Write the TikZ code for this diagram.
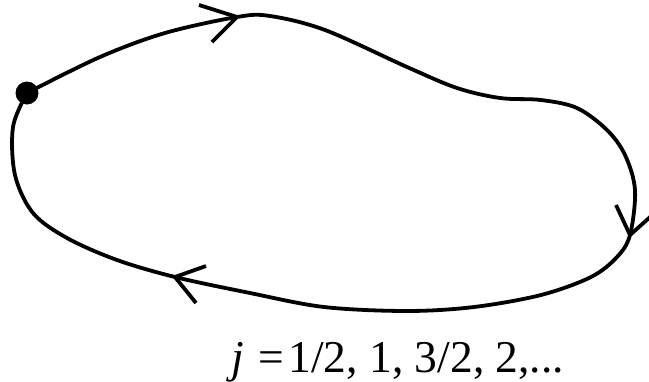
\documentclass[tikz,border=0pt]{standalone}
\usepackage{fontspec}
\setmainfont{Liberation Serif}
\tikzset{
  loopline/.style={line width=3.8pt, line cap=round, line join=round},
  barbline/.style={line width=3.8pt, line cap=butt, line join=miter},
  dotstyle/.style={circle, fill=black, inner sep=0pt, minimum size=23pt}
}
\begin{document}
\begin{tikzpicture}[x=1pt,y=-1pt]
\useasboundingbox (0,0) rectangle (649,381);
\node[dotstyle] (start) at (27,93) {};
\draw[loopline] plot[smooth, tension=0.55] coordinates {
 (27,93) (100,57) (165,33) (237,17) (270,16) (325,30) (407,67) (457,88)
 (500,98) (541,100) (577,108) (607,130) (625,155) (635,190) (630,235) (617,257)
 (591,277) (541,295) (474,307) (407,311) (324,307) (250,293) (175,277)
 (117,260) (67,238) (33,213) (15,175) (13,127) (27,93)};
% arrowheads
\coordinate (t1) at (237,17);
\coordinate (t1a) at (199,5);
\coordinate (t1b) at (212,42);
\coordinate (t2) at (630,235);
\coordinate (t2a) at (616,205);
\coordinate (t2b) at (658,210);
\coordinate (t3) at (175,277);
\coordinate (t3a) at (206,266);
\coordinate (t3b) at (196,303);
\draw[barbline] (t1a) -- (t1) -- (t1b);
\draw[barbline] (t2a) -- (t2) -- (t2b);
\draw[barbline] (t3a) -- (t3) -- (t3b);
\node[anchor=base west, font=\fontsize{45.5}{50}\selectfont, inner sep=0pt] (label) at (231,372) {\textit{j}\hspace{15pt}=\hspace{4pt}1/2, 1, 3/2, 2,...};
\end{tikzpicture}
\end{document}
